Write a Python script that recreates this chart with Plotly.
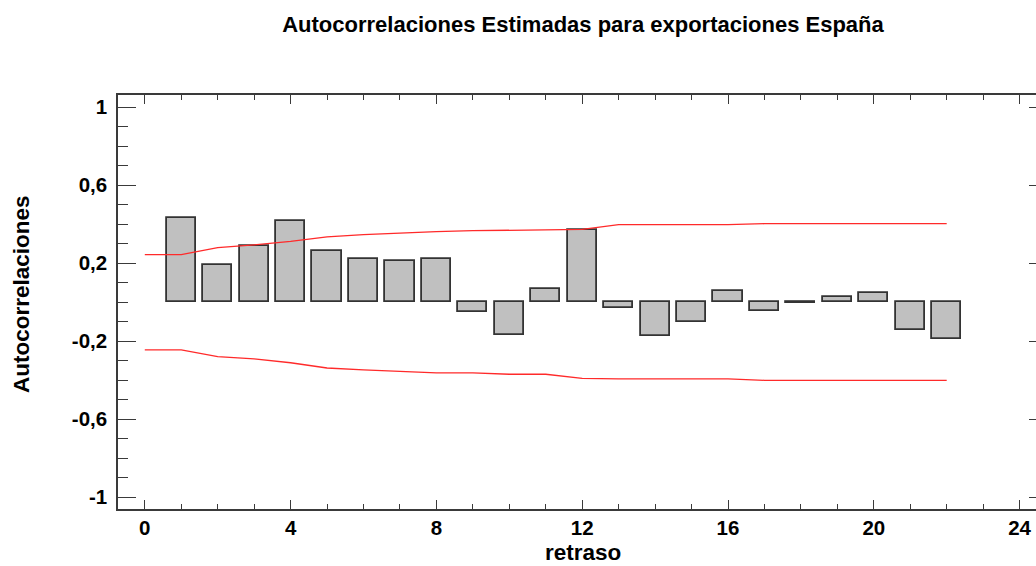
import plotly.graph_objects as go

# ---- data ----
lags = list(range(1, 23))
acf = [0.432, 0.189, 0.288, 0.417, 0.264, 0.221, 0.214, 0.221, -0.050, -0.170,
       0.069, 0.370, -0.029, -0.175, -0.099, 0.057, -0.043, -0.005, 0.029, 0.048,
       -0.140, -0.188]

limit_lags = list(range(0, 23))
upper_limit = [0.244, 0.244, 0.280, 0.294, 0.312, 0.335, 0.347, 0.356, 0.362, 0.367,
               0.369, 0.372, 0.374, 0.398, 0.398, 0.398, 0.398, 0.403, 0.403, 0.403,
               0.403, 0.403, 0.403]
lower_limit = [-0.244, -0.244, -0.279, -0.290, -0.310, -0.337, -0.347, -0.356, -0.362, -0.362,
               -0.369, -0.369, -0.390, -0.393, -0.393, -0.393, -0.393, -0.400, -0.400, -0.400,
               -0.400, -0.400, -0.400]

x_tick_vals = [0, 4, 8, 12, 16, 20, 24]
x_tick_text = ["0", "4", "8", "12", "16", "20", "24"]
y_tick_vals = [-1, -0.6, -0.2, 0.2, 0.6, 1]
y_tick_text = ["-1", "-0,6", "-0,2", "0,2", "0,6", "1"]

title_text = "Autocorrelaciones Estimadas para exportaciones España"
x_title = "retraso"
y_title = "Autocorrelaciones"

FONT = "Liberation Sans, Arial, sans-serif"
AXC = "#3a3a3a"

fig = go.Figure()
fig.add_trace(go.Bar(
    x=lags, y=acf, width=0.8,
    marker=dict(color="#c0c0c0", line=dict(color="#333333", width=1.8)),
    showlegend=False,
))
fig.add_trace(go.Scatter(
    x=limit_lags, y=upper_limit, mode="lines",
    line=dict(color="#ff2a2a", width=1.3), showlegend=False,
))
fig.add_trace(go.Scatter(
    x=limit_lags, y=lower_limit, mode="lines",
    line=dict(color="#ff2a2a", width=1.3), showlegend=False,
))
# helper (empty) trace so that the right-hand tick axis is drawn
fig.add_trace(go.Scatter(x=[], y=[], yaxis="y2", showlegend=False, hoverinfo="skip"))

yr = [-1.06, 1.063]

fig.update_layout(
    width=1036, height=566,
    margin=dict(l=118, r=0, t=95, b=57),
    paper_bgcolor="white", plot_bgcolor="white",
    separators=",.",
    bargap=0,
    title=dict(text=title_text, x=583 / 1036, xref="container", xanchor="center",
               y=1 - 24 / 566, yref="container", yanchor="middle",
               font=dict(family=FONT, size=22, color="black", weight="bold")),
    xaxis=dict(
        range=[-0.735, 24.45], showgrid=False, zeroline=False,
        showline=True, linecolor=AXC, linewidth=1.5, mirror="ticks",
        tickmode="array", tickvals=x_tick_vals, ticktext=x_tick_text,
        ticks="inside", ticklen=9, tickwidth=1, tickcolor=AXC,
        ticklabelstandoff=0,
        tickfont=dict(family=FONT, size=20.5, color="black", weight="bold"),
        minor=dict(dtick=1, tick0=0, ticks="inside", ticklen=5, tickwidth=1, tickcolor=AXC),
    ),
    yaxis=dict(
        range=yr, showgrid=False, zeroline=False,
        showline=True, linecolor=AXC, linewidth=1.5,
        tickmode="array", tickvals=y_tick_vals, ticktext=y_tick_text,
        ticks="inside", ticklen=18, tickwidth=1, tickcolor=AXC,
        ticklabelstandoff=5,
        tickfont=dict(family=FONT, size=20.5, color="black", weight="bold"),
        minor=dict(dtick=0.1, tick0=0, ticks="inside", ticklen=10, tickwidth=1, tickcolor=AXC),
    ),
    yaxis2=dict(
        range=yr, overlaying="y", side="right", anchor="x",
        showgrid=False, zeroline=False, showline=False,
        tickmode="array", tickvals=y_tick_vals, showticklabels=False,
        ticks="inside", ticklen=7, tickwidth=1, tickcolor=AXC,
    ),
    annotations=[
        dict(text=x_title, xref="paper", yref="paper", x=(583 - 118) / 918, y=-(566 - 509) / 414,
             xanchor="center", yanchor="bottom", showarrow=False, borderpad=0,
             font=dict(family=FONT, size=22.5, color="black", weight="bold")),
        dict(text=y_title, xref="paper", yref="paper", x=-(118 - 21) / 918, y=(509 - 294) / 414,
             xanchor="center", yanchor="middle", showarrow=False, textangle=-90,
             font=dict(family=FONT, size=22.5, color="black", weight="bold")),
    ],
)

fig.write_html("out.html")
